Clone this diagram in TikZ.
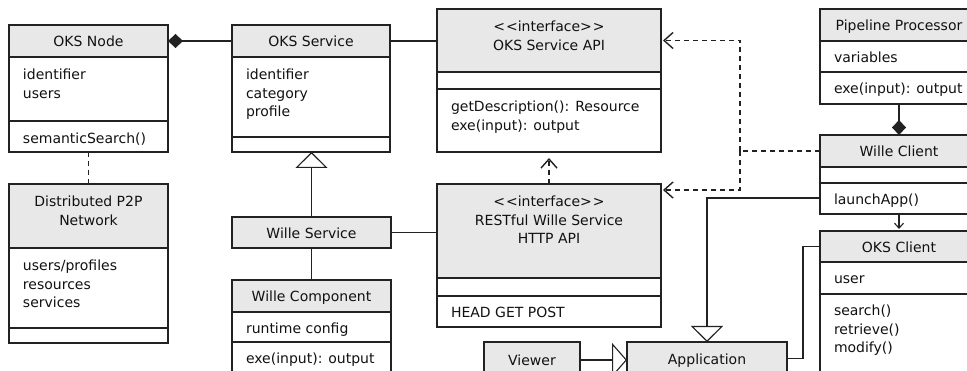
\documentclass[tikz,border=0pt]{standalone}
\usepackage{fontspec}
\setmainfont{DejaVu Sans}
\usetikzlibrary{arrows.meta,calc}
\definecolor{lc}{HTML}{222222}
\definecolor{hd}{HTML}{E8E8E8}
\definecolor{tc}{HTML}{111111}
\newcommand\umlfont{\fontsize{14}{18.5}\selectfont}
\tikzset{
  cls/.style={draw=lc, line width=1.1pt, inner sep=0pt, outer sep=0pt, anchor=north west},
  hdr/.style={cls, fill=hd, font=\umlfont, text=tc, text height=14pt, text depth=2pt},
  txt/.style={inner sep=0pt, outer sep=0pt, text=tc, font=\umlfont, align=left, anchor=north west},
  ctxt/.style={txt, align=center, anchor=north},
  divl/.style={draw=lc, line width=1.1pt},
  con/.style={draw=lc, line width=1.1pt},
  dep/.style={draw=lc, line width=1.5pt, dash pattern=on 5pt off 4pt},
  gen/.style={-{Triangle[open, length=16pt, width=32pt, line width=1.1pt]}},
  comp/.style={-{Diamond[length=15pt, width=14pt]}},
  barb/.style={-{Straight Barb[length=9pt, width=16pt, line width=1.4pt]}},
}
\begin{document}
\begin{tikzpicture}[x=1pt, y=-1pt]
\useasboundingbox (0,0) rectangle (967,371);
\clip (0,0) rectangle (967,371);

% OKS Node
\node[cls, minimum width=159pt, minimum height=127pt] (on) at (9,25) {};
\node[hdr, minimum width=159pt, minimum height=32pt] (onH) at (9,25) {OKS Node};
\draw[divl] (9,121) -- (168,121);
\node[txt] (onA) at (23,67) {\strut identifier\\users};
\node[txt] (onO) at (23,131) {\strut semanticSearch()};

% OKS Service
\node[cls, minimum width=158pt, minimum height=127pt] (os) at (232,25) {};
\node[hdr, minimum width=158pt, minimum height=32pt] (osH) at (232,25) {OKS Service};
\draw[divl] (232,137) -- (390,137);
\node[txt] (osA) at (246,67) {\strut identifier\\category\\profile};

% OKS Service API
\node[cls, minimum width=224pt, minimum height=143pt] (api) at (437,9) {};
\node[hdr, minimum width=224pt, minimum height=63pt] (apiH) at (437,9) {};
\draw[divl] (437,89) -- (661,89);
\node[ctxt] (apiT) at (549,19) {\strut <\kern1pt<interface>\kern1pt>\\OKS Service API};
\node[txt] (apiO) at (451,99) {\strut getDescription(): Resource\\exe(input): output};

% RESTful Wille Service HTTP API
\node[cls, minimum width=224pt, minimum height=143pt] (rest) at (437,184) {};
\node[hdr, minimum width=224pt, minimum height=94pt] (restH) at (437,184) {};
\draw[divl] (437,296) -- (661,296);
\node[ctxt] (restT) at (549,194) {\strut <\kern1pt<interface>\kern1pt>\\RESTful Wille Service\\HTTP API};
\node[txt] (restO) at (451,305) {\strut HEAD GET POST};
\draw[lc, line width=2pt] ($(rest.north east)+(-18,0)$) -- (rest.north east);

% Distributed P2P Network
\node[cls, minimum width=159pt, minimum height=159pt] (p2p) at (9,184) {};
\node[hdr, minimum width=159pt, minimum height=64pt] (p2pH) at (9,184) {};
\draw[divl] (9,328) -- (168,328);
\node[ctxt] (p2pT) at (88.5,194) {\strut Distributed P2P\\Network};
\node[txt] (p2pA) at (23,258) {\strut users/profiles\\resources\\services};

% Wille Service
\node[hdr, minimum width=159pt, minimum height=31pt] (ws) at (232,217) {Wille Service};

% Wille Component
\node[cls, minimum width=159pt, minimum height=110pt] (wc) at (232,280) {};
\node[hdr, minimum width=159pt, minimum height=32pt] (wcH) at (232,280) {Wille Component};
\draw[divl] (232,342) -- (391,342);
\node[txt] (wcA) at (246,321) {\strut runtime config};
\node[txt] (wcO) at (246,351) {\strut exe(input): output};

% Pipeline Processor
\node[cls, minimum width=158pt, minimum height=95pt] (pp) at (820,9) {};
\node[hdr, minimum width=158pt, minimum height=32pt] (ppH) at (820,9) {Pipeline Processor};
\draw[divl] (820,72) -- (978,72);
\node[txt] (ppA) at (834,50) {\strut variables};
\node[txt] (ppO) at (834,81) {\strut exe(input): output};

% Wille Client
\node[cls, minimum width=158pt, minimum height=79pt] (wcl) at (820,135) {};
\node[hdr, minimum width=158pt, minimum height=32pt] (wclH) at (820,135) {Wille Client};
\draw[divl] (820,183) -- (978,183);
\node[txt] (wclO) at (834,192) {\strut launchApp()};

% OKS Client
\node[cls, minimum width=158pt, minimum height=160pt] (oc) at (820,231) {};
\node[hdr, minimum width=158pt, minimum height=31pt] (ocH) at (820,231) {OKS Client};
\draw[divl] (820,294) -- (978,294);
\node[txt] (ocA) at (834,271) {\strut user};
\node[txt] (ocO) at (834,303) {\strut search()\\retrieve()\\modify()};

% Application
\node[cls, minimum width=160pt, minimum height=60pt] (app) at (627,342) {};
\node[hdr, minimum width=160pt, minimum height=33pt] (appH) at (627,342) {Application};

% Viewer
\node[hdr, minimum width=96pt, minimum height=36pt] (viewer) at (484,342) {Viewer};

% connectors
\draw[con, {Diamond[length=15pt, width=14pt]}-] (onH.east) -- (onH.east -| osH.west);
\draw[con] (osH.east) -- (osH.east -| apiH.west);
\draw[con, gen] (ws.north) -- (ws.north |- os.south);
\draw[con] (ws.south) -- (ws.south |- wcH.north);
\draw[con] (ws.east) -- (ws.east -| rest.west);
\draw[dep] (on.south) -- (p2p.north);
\draw[dep, barb, shorten >=6pt] (rest.north) -- (api.south);
\draw[con, comp] (pp.south) -- (wcl.north);
\draw[con, -{Straight Barb[length=5pt, width=9pt, line width=1.1pt]}, shorten >=2pt] (wcl.south) -- (oc.north);
\coordinate (j) at ($(wclH.west)+(-80,0)$);
\coordinate (rin) at ($(rest.north east)+(0,6)$);
\draw[dep] (wclH.west) -- (j);
\draw[dep, barb, shorten >=2pt] (j) |- (apiH.east);
\draw[dep, barb, shorten >=2pt] (j) |- (rin);
\coordinate (wclL) at ($(wcl.north west)+(0,63)$);
\draw[con, gen] (wclL) -| (app.north);
\draw[con] (appH.east) -- ++(16,0) |- (ocH.west);
\draw[con, -{Triangle[open, length=15pt, width=34pt, line width=1.1pt]}] (viewer.east) -- (viewer.east -| app.west);
\end{tikzpicture}
\end{document}
